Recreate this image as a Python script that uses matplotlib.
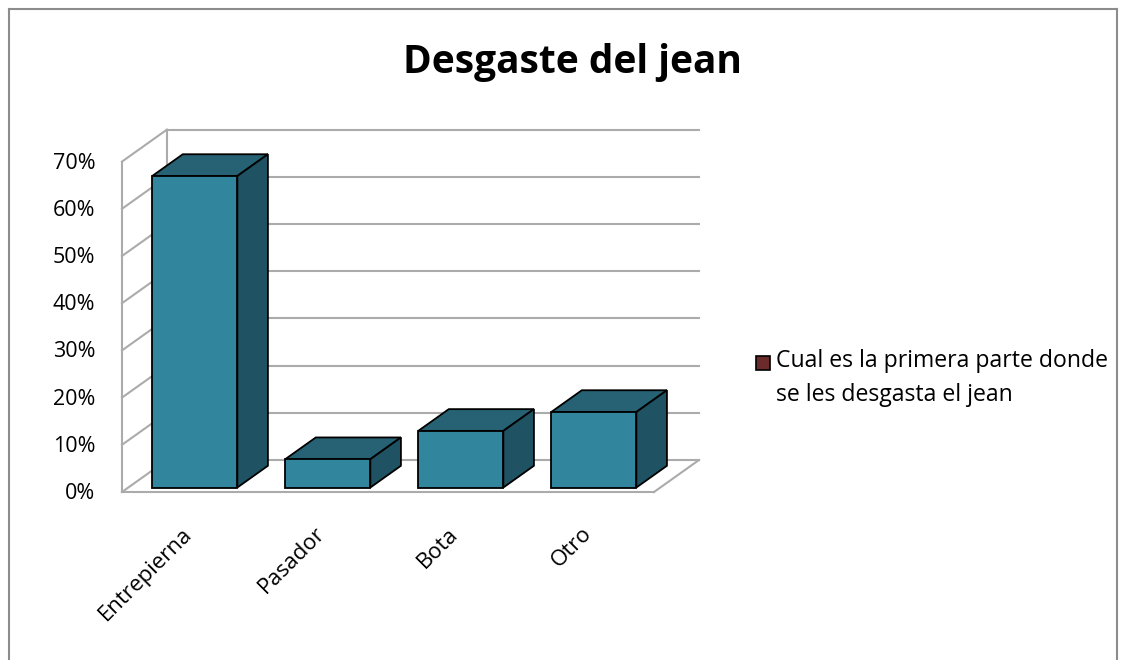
import matplotlib
matplotlib.use("Agg")
import matplotlib.pyplot as plt
from matplotlib.patches import Polygon, Rectangle

# data
categories = ["Entrepierna", "Pasador", "Bota", "Otro"]
values = [66, 6, 12, 16]          # percent
ticks = [0, 10, 20, 30, 40, 50, 60, 70]
title = "Desgaste del jean"
series_lines = ["Cual es la primera parte donde", "se les desgasta el jean"]

# colours
front_c = "#31859c"
top_c = "#266273"
side_c = "#1f5263"
grid_c = "#ababab"
legend_c = "#6b2b2b"

plt.rcParams["font.family"] = ["Open Sans", "DejaVu Sans"]

fig = plt.figure(figsize=(11.25, 6.6), dpi=100)
ax = fig.add_axes([0, 0, 1, 1])
ax.set_xlim(-1.417, 7.041)
ax.set_ylim(-35.59, 104.24)
ax.axis("off")

# depth of the 3d box (in data units) and bar placement inside it
dx, dy = 0.338, 6.78
f0, fd = 0.14, 0.68
bw = 0.64
x_lo, x_hi = -0.5, len(categories) - 0.5
top = ticks[-1]

# walls and floor
ax.plot([x_lo, x_lo], [0, top], color=grid_c, lw=1.5)
ax.plot([x_lo + dx, x_lo + dx], [dy, top + dy], color=grid_c, lw=1.5)
for t in ticks:
    ax.plot([x_lo, x_lo + dx], [t, t + dy], color=grid_c, lw=1.5)
    ax.plot([x_lo + dx, x_hi + dx], [t + dy, t + dy], color=grid_c, lw=1.5)
ax.plot([x_lo, x_hi], [0, 0], color=grid_c, lw=1.5)
ax.plot([x_hi, x_hi + dx], [0, dy], color=grid_c, lw=1.5)

# bars
for i, v in enumerate(values):
    x0 = i - bw / 2 + f0 * dx
    x1 = i + bw / 2 + f0 * dx
    y0 = f0 * dy
    y1 = v + f0 * dy
    ddx, ddy = fd * dx, fd * dy
    ax.add_patch(Polygon([(x0, y1), (x1, y1), (x1 + ddx, y1 + ddy), (x0 + ddx, y1 + ddy)],
                         closed=True, fc=top_c, ec="black", lw=1.3, zorder=3))
    ax.add_patch(Polygon([(x1, y0), (x1 + ddx, y0 + ddy), (x1 + ddx, y1 + ddy), (x1, y1)],
                         closed=True, fc=side_c, ec="black", lw=1.3, zorder=3))
    ax.add_patch(Rectangle((x0, y0), x1 - x0, y1 - y0,
                           fc=front_c, ec="black", lw=1.3, zorder=4))

# y tick labels
for t in ticks:
    ax.text(-0.70, t - 0.3, f"{t}%", ha="right", va="center", fontsize=15.5)

# category labels
for i, c in enumerate(categories):
    ax.text(i - 0.05, -6.6, c, rotation=45, ha="right", va="top",
            rotation_mode="anchor", fontsize=16)

# title
ax.text(0.509, 0.905, title, transform=ax.transAxes, ha="center", va="center",
        fontsize=28, fontweight="bold")

# legend
ax.add_patch(Rectangle((756 / 1125, 1 - 370 / 660), 14 / 1125, 14 / 660,
                       transform=ax.transAxes, fc=legend_c, ec="black", lw=1.2))
for k, line in enumerate(series_lines):
    ax.text(776 / 1125, 1 - (361 + 34 * k) / 660, line, transform=ax.transAxes,
            ha="left", va="center", fontsize=16.6)

# outer border
bc = "#8c8c8c"
ax.plot([8.5 / 1125, 8.5 / 1125], [0, 1 - 9 / 660], color=bc, lw=1.5, transform=ax.transAxes)
ax.plot([8.5 / 1125, 1117 / 1125], [1 - 9 / 660, 1 - 9 / 660], color=bc, lw=1.5, transform=ax.transAxes)
ax.plot([1117 / 1125, 1117 / 1125], [0, 1 - 9 / 660], color=bc, lw=1.5, transform=ax.transAxes)

fig.savefig("out.png", dpi=100)
